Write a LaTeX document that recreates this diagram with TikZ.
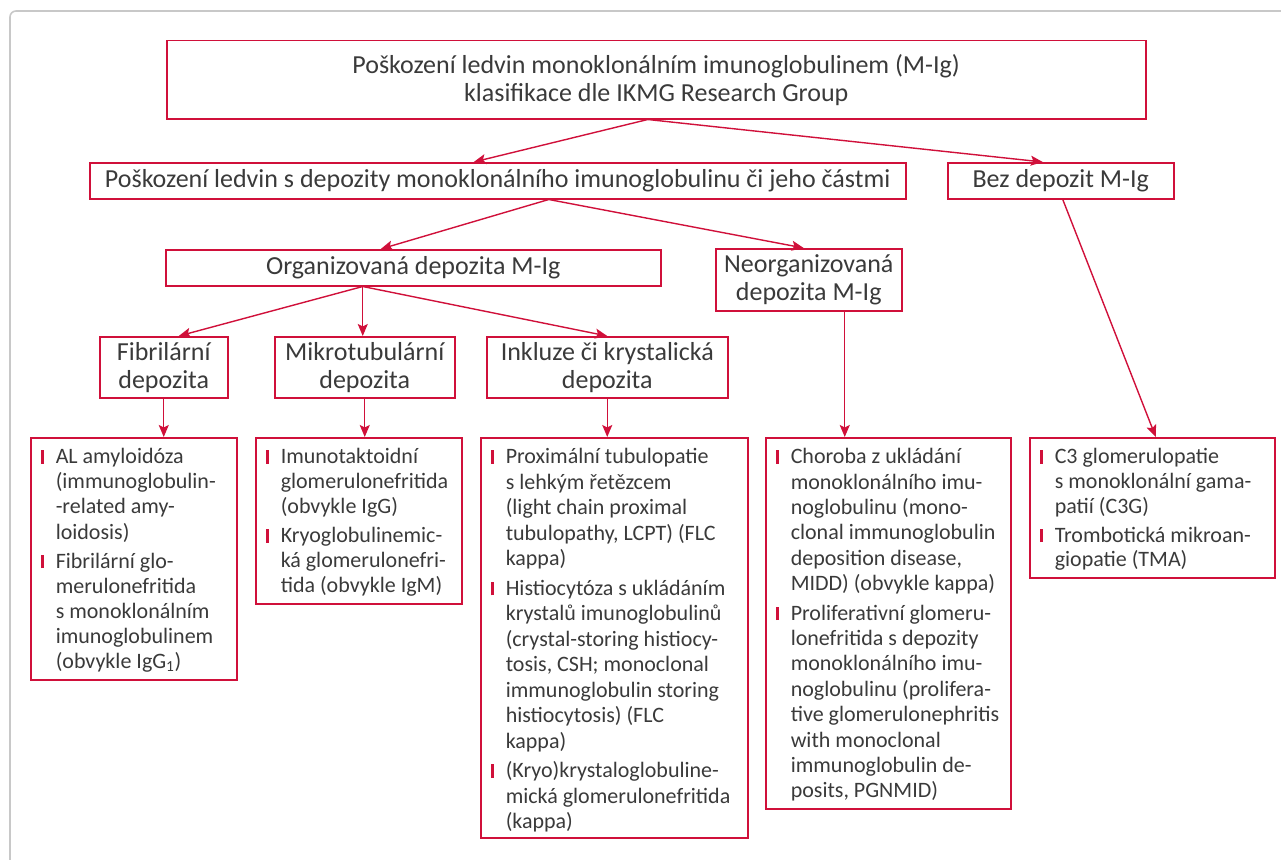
\documentclass[tikz,border=0pt]{standalone}
\usepackage{fontspec}
\setmainfont{Carlito}
\usetikzlibrary{arrows.meta}

\definecolor{mgRed}{RGB}{208,16,58}
\definecolor{mgText}{RGB}{58,58,58}
\definecolor{mgFrame}{RGB}{200,200,200}

% odrazka seznamu
\newcommand{\mgBar}{\leavevmode\llap{{\color{mgRed}\rule{3.5pt}{13.5pt}}\hspace{11.5pt}}}
\newcommand{\mgFirst}{\mgBar\rule{0pt}{26pt}}
\newcommand{\mgNext}{\par\vspace{4pt}\mgBar}
% obsah seznamu: sirka, vyska, radkovani, polozky
\newcommand{\mgList}[4]{\parbox[b][#2][t]{#1}{\fontsize{22pt}{#3}\selectfont
  \parindent=0pt\parskip=0pt\rightskip=0pt plus 1fil\leftskip=25pt #4\par}}

\begin{document}
\begin{tikzpicture}[
    x=1pt, y=-1pt,
    mgBoxStyle/.style={draw=mgRed, line width=1.5pt, inner sep=0pt, anchor=north west,
        align=center, text=mgText, font=\fontsize{26pt}{28pt}\selectfont},
    mgListStyle/.style={draw=mgRed, line width=1.5pt, inner sep=0pt, anchor=north west,
        text=mgText},
    mgArrowStyle/.style={->, mgRed, line width=1.4pt},
    >={Stealth[length=12pt, width=10pt, inset=2.5pt]}
]
    \clip (0,0) rectangle (1281,859);
    \draw[mgFrame, line width=1.6pt, rounded corners=6pt] (10,11) rectangle (1320,900);

    % --- urovne 1 a 2 ---
    \node[mgBoxStyle, minimum width=979pt, minimum height=78pt] (mgTop) at (166,40)
        {Poškození ledvin monoklonálním imunoglobulinem (M-Ig)\\klasifikace dle IKMG Research Group};
    \node[mgBoxStyle, minimum width=816pt, minimum height=36pt] (mgDep) at (89,162)
        {Poškození ledvin s depozity monoklonálního imunoglobulinu či jeho částmi};
    \node[mgBoxStyle, minimum width=226pt, minimum height=36pt] (mgNone) at (947,162)
        {Bez depozit M-Ig};

    % --- uroven 3 ---
    \node[mgBoxStyle, minimum width=495pt, minimum height=36pt] (mgOrg) at (165,249)
        {Organizovaná depozita M-Ig};
    \node[mgBoxStyle, minimum width=186pt, minimum height=62pt] (mgNeorg) at (715,248)
        {Neorganizovaná\\depozita M-Ig};

    % --- uroven 4 ---
    \node[mgBoxStyle, minimum width=128pt, minimum height=61pt] (mgFib) at (99,336)
        {Fibrilární\\depozita};
    \node[mgBoxStyle, minimum width=180pt, minimum height=61pt] (mgMikro) at (274,336)
        {Mikrotubulární\\depozita};
    \node[mgBoxStyle, minimum width=241pt, minimum height=61pt] (mgInkl) at (486,336)
        {Inkluze či krystalická\\depozita};

    % --- seznamy ---
    \node[mgListStyle] (mgFibList) at (30,437) {\mgList{206pt}{242pt}{25.1pt}{%
        \mgFirst AL amyloidóza\\(immunoglobulin-\\-related amy-\\loidosis)
        \mgNext Fibrilární glo-\\merulonefritida\\s monoklonálním\\imunoglobulinem\\(obvykle IgG\textsubscript{1})}};
    \node[mgListStyle] (mgMikroList) at (255,437) {\mgList{206pt}{166pt}{25pt}{%
        \mgFirst Imunotaktoidní\\glomerulonefritida\\(obvykle IgG)
        \mgNext Kryoglobulinemic-\\ká glomerulonefri-\\tida (obvykle IgM)}};
    \node[mgListStyle] (mgInklList) at (480,437) {\mgList{267pt}{400pt}{25.5pt}{%
        \mgFirst Proximální tubulopatie\\s lehkým řetězcem\\(light chain proximal\\tubulopathy, LCPT) (FLC\\kappa)
        \mgNext Histiocytóza s ukládáním\\krystalů imunoglobulinů\\(crystal-storing histiocy-\\tosis, CSH; monoclonal\\immunoglobulin storing\\histiocytosis) (FLC\\kappa)
        \mgNext (Kryo)krystaloglobuline-\\mická glomerulonefritida\\(kappa)}};
    \node[mgListStyle] (mgChorList) at (765,437) {\mgList{245pt}{371pt}{25.4pt}{%
        \mgFirst Choroba z ukládání\\monoklonálního imu-\\noglobulinu (mono-\\clonal immunoglobulin\\deposition disease,\\MIDD) (obvykle kappa)
        \mgNext Proliferativní glomeru-\\lonefritida s depozity\\monoklonálního imu-\\noglobulinu (prolifera-\\tive glomerulonephritis\\with monoclonal\\immunoglobulin de-\\posits, PGNMID)}};
    \node[mgListStyle] (mgC3List) at (1029,437) {\mgList{245pt}{140pt}{24.8pt}{%
        \mgFirst C3 glomerulopatie\\s monoklonální gama-\\patií (C3G)
        \mgNext Trombotická mikroan-\\giopatie (TMA)}};

    % --- spojnice ---
    \draw[mgArrowStyle] ([xshift=-8.5pt]mgTop.south) -- ([xshift=-24pt]mgDep.north);
    \draw[mgArrowStyle] ([xshift=-8.5pt]mgTop.south) -- ([xshift=-18pt]mgNone.north);
    \draw[mgArrowStyle] ([xshift=51pt]mgDep.south) -- ([xshift=-32.5pt]mgOrg.north);
    \draw[mgArrowStyle] ([xshift=51pt]mgDep.south) -- ([xshift=-5pt]mgNeorg.north);
    \draw[mgArrowStyle] ([xshift=-50.5pt]mgOrg.south) -- ([xshift=15pt]mgFib.north);
    \draw[mgArrowStyle] ([xshift=-50.5pt]mgOrg.south) -- ([xshift=-2pt]mgMikro.north);
    \draw[mgArrowStyle] ([xshift=-50.5pt]mgOrg.south) -- (mgInkl.north);
    \draw[mgArrowStyle] (mgFib.south) -- (mgFib.south |- mgFibList.north);
    \draw[mgArrowStyle] (mgMikro.south) -- (mgMikro.south |- mgMikroList.north);
    \draw[mgArrowStyle] (mgInkl.south) -- (mgInkl.south |- mgInklList.north);
    \draw[mgArrowStyle] ([xshift=36pt]mgNeorg.south) -- ([xshift=36pt]mgNeorg.south |- mgChorList.north);
    \draw[mgArrowStyle] ([xshift=2pt]mgNone.south) -- ([xshift=3.5pt]mgC3List.north);
\end{tikzpicture}
\end{document}
